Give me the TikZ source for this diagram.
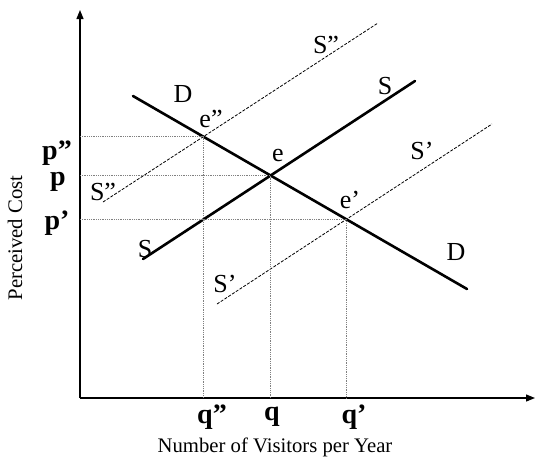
\documentclass[tikz,border=0pt]{standalone}
\usepackage{fontspec}
\setmainfont{Liberation Serif}
\usetikzlibrary{arrows.meta}

\begin{document}
\begin{tikzpicture}[
    x=1pt, y=-1pt,
    % axes and curves
    axis/.style={line width=1.2pt, -{Triangle[length=9pt, width=7pt]}},
    curve/.style={line width=2.6pt, line cap=round},
    shifted/.style={line width=0.8pt, dash pattern=on 3pt off 1.5pt},
    guide/.style={line width=0.7pt, gray, dash pattern=on 1pt off 0.8pt},
    % text helpers
    curve_lbl/.style={font=\fontsize{26}{28}\selectfont, inner sep=0pt},
    tick_lbl/.style={font=\fontsize{28}{30}\selectfont\bfseries, inner sep=0pt},
    title_lbl/.style={font=\fontsize{20.7}{23}\selectfont, inner sep=0pt}
]
    \useasboundingbox (0,0) rectangle (535,459);

    % ==========================================
    % 1. AXES
    % ==========================================
    \coordinate (origin) at (80,398);
    \coordinate (ytop) at (80,10);
    \coordinate (xend) at (535,398);
    \draw[axis] (origin) -- (ytop);
    \draw[axis] (origin) -- (xend);

    \node[title_lbl, rotate=90] (ytitle) at (15,238) {Perceived Cost};
    \node[title_lbl] (xtitle) at (275,447) {Number of Visitors per Year};

    % ==========================================
    % 2. DEMAND AND SUPPLY CURVES
    % ==========================================
    \coordinate (d_a) at (133,96);
    \coordinate (d_b) at (467,289);
    \coordinate (s_a) at (143,259);
    \coordinate (s_b) at (415,81);
    \coordinate (spp_a) at (103,202);
    \coordinate (spp_b) at (378,23);
    \coordinate (sp_a) at (217,304);
    \coordinate (sp_b) at (492,124);

    \draw[shifted] (spp_a) -- (spp_b);
    \draw[shifted] (sp_a) -- (sp_b);
    \draw[curve] (d_a) -- (d_b);
    \draw[curve] (s_a) -- (s_b);

    % Equilibrium points
    \coordinate (e) at (intersection of d_a--d_b and s_a--s_b);
    \coordinate (epp) at (intersection of d_a--d_b and spp_a--spp_b);
    \coordinate (ep) at (intersection of d_a--d_b and sp_a--sp_b);

    % Dotted guides to the axes
    \draw[guide] (origin |- epp) -- (epp) -- (epp |- origin);
    \draw[guide] (origin |- e) -- (e) -- (e |- origin);
    \draw[guide] (origin |- ep) -- (ep) -- (ep |- origin);

    % Curve labels
    \node[curve_lbl] (l_d1) at (183,94) {D};
    \node[curve_lbl] (l_d2) at (456,252) {D};
    \node[curve_lbl] (l_s1) at (385,86) {S};
    \node[curve_lbl] (l_s2) at (145,249) {S};
    \node[curve_lbl] (l_spp1) at (326,45) {S''};
    \node[curve_lbl] (l_spp2) at (103,192) {S''};
    \node[curve_lbl] (l_sp1) at (422,151) {S'};
    \node[curve_lbl] (l_sp2) at (225,284) {S'};
    \node[curve_lbl] (l_e) at (278,155) {e};
    \node[curve_lbl] (l_epp) at (211,119) {e''};
    \node[curve_lbl] (l_ep) at (350,200) {e'};

    % ==========================================
    % 3. AXIS VALUES
    % ==========================================
    \node[tick_lbl] (pp) at (57,153) {p''};
    \node[tick_lbl] (p0) at (58,182) {p};
    \node[tick_lbl] (p1) at (57,223) {p'};
    \node[tick_lbl] (qq) at (212,417) {q''};
    \node[tick_lbl] (q0) at (272,417) {q};
    \node[tick_lbl] (q1) at (354,417) {q'};

\end{tikzpicture}
\end{document}
